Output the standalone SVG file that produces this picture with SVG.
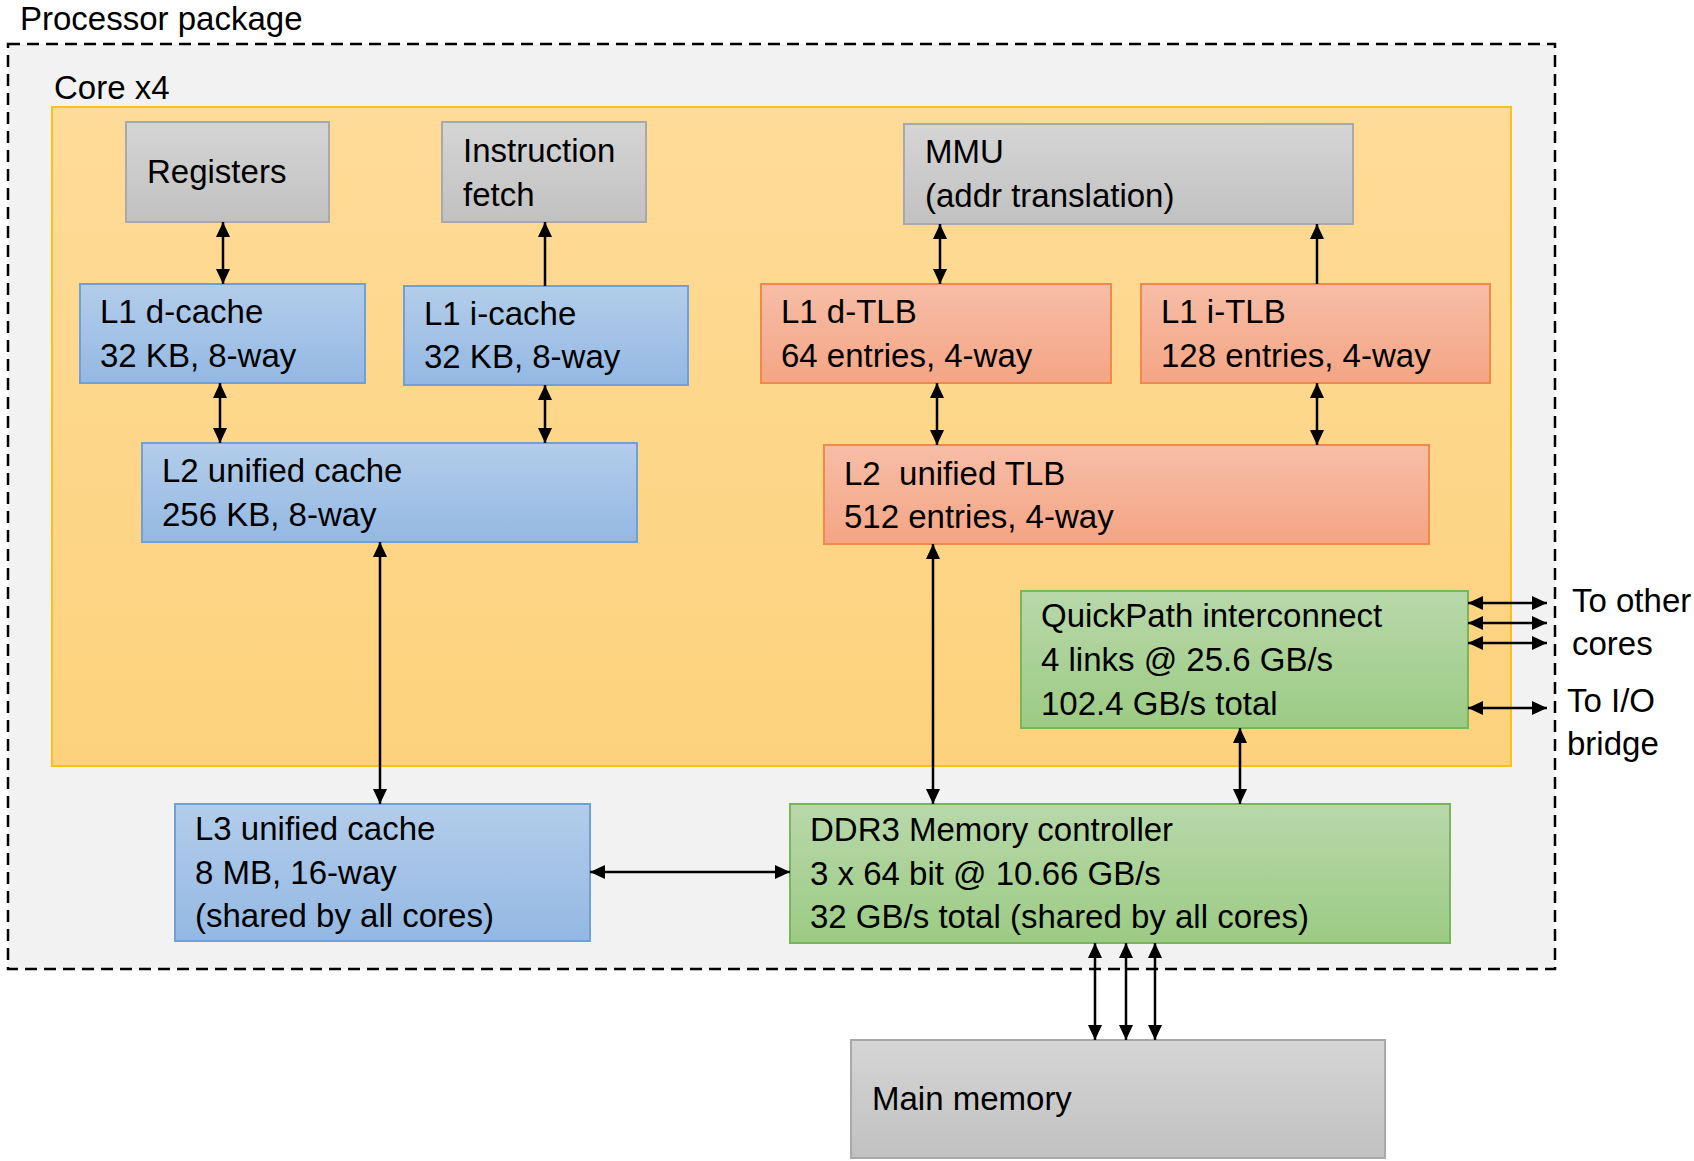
<svg xmlns="http://www.w3.org/2000/svg" width="1694" height="1161" viewBox="0 0 1694 1161">
<style>
text{font-family:"Liberation Sans",Arial,sans-serif;font-size:33px;fill:#000;white-space:pre}
.blue{fill:url(#gBlue);stroke:#6fa0d8;stroke-width:2}
.orange{fill:url(#gOrange);stroke:#f08a4b;stroke-width:2}
.green{fill:url(#gGreen);stroke:#7ab55c;stroke-width:2}
.gray{fill:url(#gGray);stroke:#a9a9a9;stroke-width:2}
.conn line{stroke:#000;stroke-width:2.5;fill:none}
.bi{marker-start:url(#ah);marker-end:url(#ah)}
.uni{marker-end:url(#ah)}
</style>
<defs>
<linearGradient id="gBlue" x1="0" y1="0" x2="0" y2="1"><stop offset="0" stop-color="#b3cdea"/><stop offset="1" stop-color="#94b8e3"/></linearGradient>
<linearGradient id="gOrange" x1="0" y1="0" x2="0" y2="1"><stop offset="0" stop-color="#f7bda7"/><stop offset="1" stop-color="#f4a584"/></linearGradient>
<linearGradient id="gGreen" x1="0" y1="0" x2="0" y2="1"><stop offset="0" stop-color="#b8d8aa"/><stop offset="1" stop-color="#9ccb84"/></linearGradient>
<linearGradient id="gGray" x1="0" y1="0" x2="0" y2="1"><stop offset="0" stop-color="#d5d5d5"/><stop offset="1" stop-color="#c1c1c1"/></linearGradient>
<linearGradient id="gCore" x1="0" y1="0" x2="0" y2="1"><stop offset="0" stop-color="#fedb98"/><stop offset="1" stop-color="#fdd27c"/></linearGradient>
<marker id="ah" markerUnits="userSpaceOnUse" markerWidth="16" markerHeight="14" refX="15" refY="7" orient="auto-start-reverse" viewBox="0 0 16 14">
<path d="M0,0 L15,7 L0,14 z" fill="#000"/>
</marker>
</defs>

<g id="package">
<rect x="8" y="44" width="1547" height="925" fill="#f2f2f2" stroke="#000" stroke-width="2.5" stroke-dasharray="12 7"/>
<text x="20" y="30">Processor package</text>
</g>

<g id="core">
<rect x="52" y="107" width="1459" height="659" fill="url(#gCore)" stroke="#fdbf1a" stroke-width="2"/>
<text x="54" y="99">Core x4</text>
</g>

<g id="registers">
<rect class="gray" x="126" y="122" width="203" height="100"/>
<text x="147" y="183">Registers</text>
</g>

<g id="ifetch">
<rect class="gray" x="442" y="122" width="204" height="100"/>
<text x="463" y="162">Instruction</text>
<text x="463" y="206">fetch</text>
</g>

<g id="mmu">
<rect class="gray" x="904" y="124" width="449" height="100"/>
<text x="925" y="163">MMU</text>
<text x="925" y="207">(addr translation)</text>
</g>

<g id="l1d">
<rect class="blue" x="80" y="284" width="285" height="99"/>
<text x="100" y="323">L1 d-cache</text>
<text x="100" y="367">32 KB, 8-way</text>
</g>

<g id="l1i">
<rect class="blue" x="404" y="286" width="284" height="99"/>
<text x="424" y="325">L1 i-cache</text>
<text x="424" y="368">32 KB, 8-way</text>
</g>

<g id="l1dtlb">
<rect class="orange" x="761" y="284" width="350" height="99"/>
<text x="781" y="323">L1 d-TLB</text>
<text x="781" y="367">64 entries, 4-way</text>
</g>

<g id="l1itlb">
<rect class="orange" x="1141" y="284" width="349" height="99"/>
<text x="1161" y="323">L1 i-TLB</text>
<text x="1161" y="367">128 entries, 4-way</text>
</g>

<g id="l2cache">
<rect class="blue" x="142" y="443" width="495" height="99"/>
<text x="162" y="482">L2 unified cache</text>
<text x="162" y="526">256 KB, 8-way</text>
</g>

<g id="l2tlb">
<rect class="orange" x="824" y="445" width="605" height="99"/>
<text x="844" y="485">L2  unified TLB</text>
<text x="844" y="528">512 entries, 4-way</text>
</g>

<g id="qpi">
<rect class="green" x="1021" y="591" width="447" height="137"/>
<text x="1041" y="627">QuickPath interconnect</text>
<text x="1041" y="671">4 links @ 25.6 GB/s</text>
<text x="1041" y="715">102.4 GB/s total</text>
</g>

<g id="l3">
<rect class="blue" x="175" y="804" width="415" height="137"/>
<text x="195" y="840">L3 unified cache</text>
<text x="195" y="884">8 MB, 16-way</text>
<text x="195" y="927">(shared by all cores)</text>
</g>

<g id="ddr">
<rect class="green" x="790" y="804" width="660" height="139"/>
<text x="810" y="841">DDR3 Memory controller</text>
<text x="810" y="885">3 x 64 bit @ 10.66 GB/s</text>
<text x="810" y="928">32 GB/s total (shared by all cores)</text>
</g>

<g id="mainmem">
<rect class="gray" x="851" y="1040" width="534" height="118"/>
<text x="872" y="1110">Main memory</text>
</g>

<g id="labels">
<text x="1572" y="612">To other</text>
<text x="1572" y="655">cores</text>
<text x="1567" y="712">To I/O</text>
<text x="1567" y="755">bridge</text>
</g>

<g id="connectors" class="conn">
<line class="bi" x1="223" y1="222" x2="223" y2="284"/>
<line class="uni" x1="545" y1="286" x2="545" y2="222"/>
<line class="bi" x1="940" y1="224" x2="940" y2="284"/>
<line class="uni" x1="1317" y1="284" x2="1317" y2="224"/>
<line class="bi" x1="220" y1="383" x2="220" y2="443"/>
<line class="bi" x1="545" y1="385" x2="545" y2="443"/>
<line class="bi" x1="937" y1="383" x2="937" y2="445"/>
<line class="bi" x1="1317" y1="383" x2="1317" y2="445"/>
<line class="bi" x1="380" y1="542" x2="380" y2="804"/>
<line class="bi" x1="933" y1="544" x2="933" y2="804"/>
<line class="bi" x1="1240" y1="728" x2="1240" y2="804"/>
<line class="bi" x1="590" y1="872" x2="790" y2="872"/>
<line class="bi" x1="1095" y1="943" x2="1095" y2="1040"/>
<line class="bi" x1="1126" y1="943" x2="1126" y2="1040"/>
<line class="bi" x1="1155" y1="943" x2="1155" y2="1040"/>
<line class="bi" x1="1468" y1="603" x2="1547" y2="603"/>
<line class="bi" x1="1468" y1="623" x2="1547" y2="623"/>
<line class="bi" x1="1468" y1="643" x2="1547" y2="643"/>
<line class="bi" x1="1468" y1="708" x2="1547" y2="708"/>
</g>
</svg>
